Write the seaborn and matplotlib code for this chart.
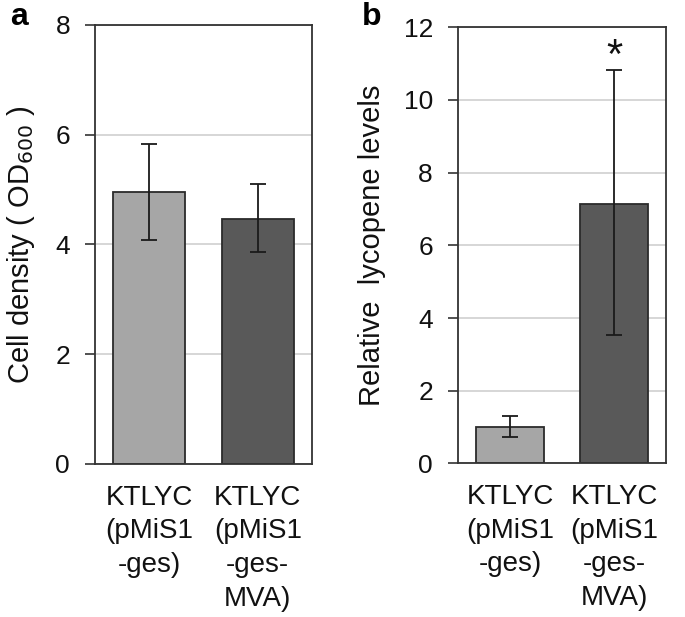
import matplotlib
matplotlib.use("Agg")
import matplotlib.pyplot as plt
import seaborn as sns
import pandas as pd
import numpy as np

# ---- data ----
strains = ["KTLYC\n(pMiS1\n-ges)", "KTLYC\n(pMiS1\n-ges-\nMVA)"]
cell_density = [4.96, 4.47]
cell_density_err_hi = [5.84, 5.11]
cell_density_err_lo = [4.08, 3.86]
lycopene = [1.01, 7.15]
lycopene_err_hi = [1.29, 10.82]
lycopene_err_lo = [0.72, 3.54]
bar_colors = ["#a6a6a6", "#595959"]

sns.set_theme(style="white")
plt.rcParams["font.family"] = ["Liberation Sans", "DejaVu Sans"]

fig = plt.figure(figsize=(6.85, 6.17), dpi=100)
ax_a = fig.add_axes([0.1387, 0.248, 0.3168, 0.7115])
ax_b = fig.add_axes([0.6686, 0.249, 0.3037, 0.7068])

def panel(ax, vals, hi, lo, ylim, yticks, ylabel):
    df = pd.DataFrame({"strain": strains, "value": vals})
    sns.barplot(data=df, x="strain", y="value", hue="strain", palette=bar_colors,
                order=strains, hue_order=strains, errorbar=None, legend=False,
                width=0.66, edgecolor="#2b2b2b", linewidth=1.3, ax=ax, zorder=2)
    x = np.arange(len(vals))
    v = np.array(vals)
    yerr = np.vstack([v - np.array(lo), np.array(hi) - v])
    ax.errorbar(x, v, yerr=yerr, fmt="none", ecolor="#1a1a1a", elinewidth=1.3,
                capsize=6, capthick=1.3, zorder=3)
    ax.set_xlim(-0.5, 1.5)
    ax.set_ylim(*ylim)
    ax.set_yticks(yticks)
    ax.yaxis.grid(True, color="#cccccc", linewidth=1.1, zorder=0)
    ax.set_axisbelow(True)
    for s in ax.spines.values():
        s.set_visible(True)
        s.set_color("#333333")
        s.set_linewidth(1.3)
    ax.tick_params(axis="y", which="both", left=True, direction="out", length=7,
                   width=1.2, color="#333333", labelsize=19, pad=11, labelcolor="#111111")
    ax.tick_params(axis="x", bottom=False, labelsize=20, pad=9, labelcolor="#111111")
    for t in ax.get_xticklabels():
        t.set_linespacing(1.38)
    ax.set_xlabel("")
    ax.set_ylabel(ylabel, fontsize=21, color="#111111", labelpad=13)

panel(ax_a, cell_density, cell_density_err_hi, cell_density_err_lo, (0, 8), [0, 2, 4, 6, 8],
      "Cell density ( OD$_{600}$ )")
panel(ax_b, lycopene, lycopene_err_hi, lycopene_err_lo, (0, 12), [0, 2, 4, 6, 8, 10, 12],
      "Relative  lycopene levels")

ax_b.text(1, 11.17, "*", ha="center", va="center", fontsize=30, color="#111111")

fig.text(0.015, 0.972, "a", fontsize=23, fontweight="bold", color="#000000", va="center")
fig.text(0.528, 0.972, "b", fontsize=23, fontweight="bold", color="#000000", va="center")

fig.savefig("out.png", dpi=100)
